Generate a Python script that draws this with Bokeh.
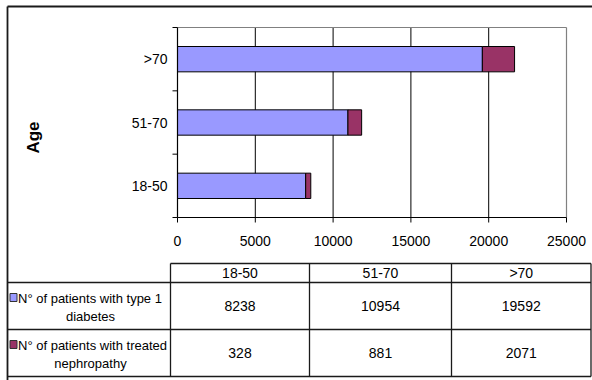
import math
from bokeh.plotting import figure
from bokeh.models import Range1d
from bokeh.embed import file_html
from bokeh.resources import INLINE
from bokeh.core.properties import value

# ---- data ----
ages = ["18-50", "51-70", ">70"]
type1 = [8238, 10954, 19592]
nephro = [328, 881, 2071]
series_names = ["N° of patients with type 1 diabetes",
                "N° of patients with treated nephropathy"]
series_colors = ["#9999FF", "#993366"]
x_ticks = [0, 5000, 10000, 15000, 20000, 25000]
axis_title = "Age"

# ---- layout constants (canvas pixels) ----
FONT = "Liberation Sans"
FS = "14px"
W, H = 592, 380
PL, PR, PT, PB = 177, 566, 27, 217          # plot area edges
col_edges = [170, 309, 451, 590.5]           # table columns
row_edges = [263, 282, 329, 376]             # table rows
BX, BY = 7, 6                                # outer border
LC = "#1a1a1a"

n = len(ages)
ypos = [i + 0.5 for i in range(n)]
stack_end = [a + b for a, b in zip(type1, nephro)]

# value range mapped onto plot area
xv0, xv1 = x_ticks[0], x_ticks[-1]
k = (xv1 - xv0) / (PR - PL)
val_range = Range1d(xv0 - PL * k, xv0 + (W - PL) * k)
# category range mapped onto plot area (screen y grows downward)
unit = (PB - PT) / n
cat_range = Range1d((PB - H) / unit, PB / unit)

p = figure(width=W, height=H, output_backend="svg", toolbar_location=None,
           x_range=Range1d(0, W), y_range=Range1d(H, 0),
           x_axis_type=None, y_axis_type=None,
           min_border=0, min_border_left=0, min_border_right=0,
           min_border_top=0, min_border_bottom=0)
p.extra_x_ranges = {"val": val_range}
p.extra_y_ranges = {"cat": cat_range}
p.outline_line_color = None
p.background_fill_color = "white"
p.border_fill_color = "white"

# gridlines
p.segment(x0=x_ticks[1:-1], x1=x_ticks[1:-1], y0=PT, y1=PB, x_range_name="val",
          line_color="black", line_width=1)
# plot-area border (top & right)
p.segment(x0=[xv0, xv1], x1=[xv1, xv1], y0=[PT, PT], y1=[PT, PB], x_range_name="val",
          line_color="#808080", line_width=1.2)

# bars
p.hbar(y=ypos, left=0, right=type1, height=0.4, fill_color=series_colors[0],
       line_color="black", line_width=1, x_range_name="val", y_range_name="cat")
p.hbar(y=ypos, left=type1, right=stack_end, height=0.4, fill_color=series_colors[1],
       line_color="black", line_width=1, x_range_name="val", y_range_name="cat")

# axes lines
p.segment(x0=[xv0, xv0], x1=[xv1, xv0], y0=[PB, PT], y1=[PB, PB], x_range_name="val",
          line_color="black", line_width=1.2)
# x ticks
p.segment(x0=x_ticks, x1=x_ticks, y0=PB, y1=PB + 5, x_range_name="val",
          line_color="black", line_width=1)
# y ticks at category boundaries
bounds = list(range(n + 1))
p.segment(x0=PL - 5, x1=PL, y0=bounds, y1=bounds, y_range_name="cat",
          line_color="black", line_width=1)
# tick labels
p.text(x=x_ticks, y=[PB + 23] * len(x_ticks), text=[str(v) for v in x_ticks],
       x_range_name="val", text_align="center", text_baseline="middle",
       text_font=value(FONT), text_font_size=FS, text_color="black")
p.text(x=[PL - 10] * n, y=ypos, text=ages, y_range_name="cat",
       text_align="right", text_baseline="middle",
       text_font=value(FONT), text_font_size=FS, text_color="black")
# axis title
p.text(x=[33], y=[137], text=[axis_title], angle=math.pi / 2,
       text_align="center", text_baseline="middle", text_font=value(FONT),
       text_font_style="bold", text_font_size="17px", text_color="black")

# ---- outer border (left & top) ----
p.segment(x0=[BX, BX], x1=[BX, W], y0=[BY, BY], y1=[H, BY],
          line_color=LC, line_width=1.8)

# ---- data table ----
p.segment(x0=[col_edges[0]] + [BX] * 3, y0=row_edges,
          x1=[col_edges[-1]] * 4, y1=row_edges, line_color=LC, line_width=1.3)
p.segment(x0=col_edges, y0=[row_edges[0]] * 4, x1=col_edges,
          y1=[row_edges[-1]] * 4, line_color=LC, line_width=1.3)

centers = [(a + b) / 2 for a, b in zip(col_edges[:-1], col_edges[1:])]
row_mid = [(a + b) / 2 for a, b in zip(row_edges[:-1], row_edges[1:])]

p.text(x=centers, y=[row_mid[0]] * n, text=ages, text_align="center",
       text_baseline="middle", text_font=value(FONT), text_font_size=FS,
       text_color="black")
for ri, vals in enumerate([type1, nephro]):
    p.text(x=centers, y=[row_mid[ri + 1]] * n, text=[str(v) for v in vals],
           text_align="center", text_baseline="middle", text_font=value(FONT),
           text_font_size=FS, text_color="black")

head_center = 90
for ri, name in enumerate(series_names):
    line1, line2 = name.rsplit(" ", 1)
    ym = row_mid[ri + 1]
    p.rect(x=[13], y=[ym - 8.5], width=7, height=8, fill_color=series_colors[ri],
           line_color="#333333", line_width=1)
    p.text(x=[17.5], y=[ym - 7.5], text=[line1], text_align="left",
           text_baseline="middle", text_font=value(FONT), text_font_size="13px",
           text_color="black")
    p.text(x=[head_center], y=[ym + 10], text=[line2], text_align="center",
           text_baseline="middle", text_font=value(FONT), text_font_size="13px",
           text_color="black")

open("out.html", "w").write(file_html(p, INLINE))
